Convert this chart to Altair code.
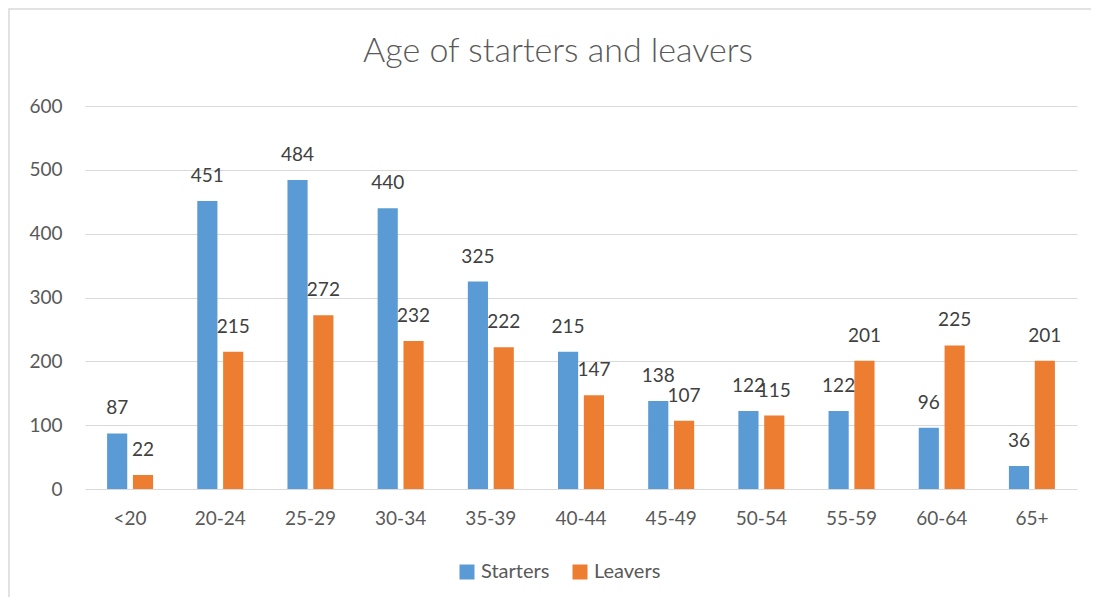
import altair as alt
import pandas as pd

categories = ["<20", "20-24", "25-29", "30-34", "35-39", "40-44", "45-49", "50-54", "55-59", "60-64", "65+"]
starters = [87, 451, 484, 440, 325, 215, 138, 122, 122, 96, 36]
leavers = [22, 215, 272, 232, 222, 147, 107, 115, 201, 225, 201]
series_names = ["Starters", "Leavers"]
series_colors = ["#5B9BD5", "#ED7D31"]
chart_title = "Age of starters and leavers"

rows = []
for c, s, l in zip(categories, starters, leavers):
    rows.append({"age": c, "series": "Starters", "value": s})
    rows.append({"age": c, "series": "Leavers", "value": l})
df = pd.DataFrame(rows)

FONT = "Lato"
W, H = 992, 383

x_enc = alt.X("age:N", sort=categories,
              scale=alt.Scale(paddingInner=0.49, paddingOuter=0.245),
              axis=alt.Axis(title=None, labelAngle=0, ticks=False, domain=False,
                            labelPadding=20, labelFontSize=19, labelColor="#595959",
                            labelFont=FONT, grid=False))
xo_enc = alt.XOffset("series:N", sort=series_names,
                     scale=alt.Scale(paddingInner=0.22, paddingOuter=0))
y_enc = alt.Y("value:Q", scale=alt.Scale(domain=[0, 600]),
              axis=alt.Axis(title=None, values=[0, 100, 200, 300, 400, 500, 600],
                            ticks=False, domain=False, labelPadding=23,
                            labelFontSize=19, labelColor="#595959", labelFont=FONT,
                            gridColor="#D9D9D9", gridWidth=1))

base = alt.Chart(df)

deco = pd.DataFrame({"t": [chart_title]})

frame = alt.Chart(deco).mark_rect(
    fill=None, fillOpacity=0, stroke="#D9D9D9", strokeWidth=1.5
).encode(x=alt.value(-76), y=alt.value(-97), x2=alt.value(1110), y2=alt.value(600))

title = alt.Chart(deco).mark_text(
    fontSize=34, font=FONT, fontWeight=300, color="#595959", baseline="middle",
    align="center"
).encode(x=alt.value(W / 2 - 23), y=alt.value(-54), text="t:N")

bars = base.mark_bar().encode(
    x=x_enc, xOffset=xo_enc, y=y_enc,
    color=alt.Color("series:N", sort=series_names,
                    scale=alt.Scale(domain=series_names, range=series_colors),
                    legend=alt.Legend(title=None, orient="none", direction="horizontal",
                                      legendX=372, legendY=456,
                                      symbolType="square", symbolSize=225,
                                      symbolStrokeWidth=0, labelFontSize=20,
                                      labelFont=FONT, labelColor="#595959",
                                      labelOffset=4, columnPadding=20)),
)

labels = base.mark_text(baseline="alphabetic", dy=-19, fontSize=19, font=FONT,
                        color="#404040").encode(
    x=alt.X("age:N", sort=categories), xOffset=alt.XOffset("series:N", sort=series_names),
    y="value:Q", text="value:Q")

chart = alt.layer(bars, labels, frame, title).properties(
    width=W, height=H,
    autosize=alt.AutoSizeParams(type="none"),
    padding={"left": 77, "top": 98, "right": 14, "bottom": 108},
).configure_view(stroke=None)

chart.save("out.html", embed_options={"renderer": "svg", "actions": False})
